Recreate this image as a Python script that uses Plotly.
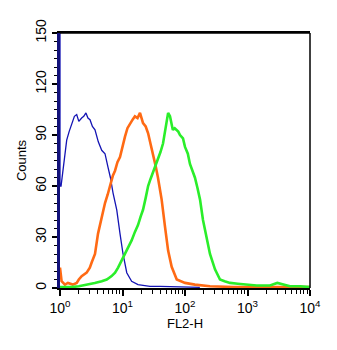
import plotly.graph_objects as go

# FL2-H channel positions and event counts for the three stained samples
blue_fl2 = [1.0, 1.0, 1.04, 1.13, 1.2, 1.28, 1.4, 1.54, 1.7, 1.85, 2.0, 2.22, 2.4, 2.6, 2.8,
            3.02, 3.3, 3.63, 4.1, 4.65, 5.25, 5.87, 6.4, 7.05, 8.09, 9.12, 10.2, 11.7,
            14.0, 17.7, 22.0, 27.5, 40.0, 57.5, 100.0, 173.0]
blue_cnt = [160, 60, 60, 71, 78, 87, 92, 97, 101, 102, 98, 100, 101, 103, 100,
            99, 95, 93, 86, 81, 79, 71, 65, 56, 46, 32, 20, 9,
            4, 2, 1.5, 1, 1, 0.8, 0.6, 0.4]

orange_fl2 = [1.0, 1.06, 1.2, 1.34, 1.6, 1.85, 2.0, 2.22, 2.67, 3.0, 3.21, 3.63, 4.06,
              4.65, 5.25, 5.8, 6.31, 7.0, 7.59, 8.3, 9.12, 10.0, 10.96, 12.0, 13.2, 14.5,
              15.8, 17.4, 19.05, 20.0, 21.3, 23.5, 25.7, 28.0, 30.8, 33.8, 36.9, 42.3,
              47.9, 53.7, 61.2, 73.8, 100.0, 144.0, 251.0, 600.0, 2000.0, 10000.0]
orange_cnt = [12, 4, 2, 3, 2, 3, 5, 7, 9, 12, 15, 20, 32,
              42, 50, 55, 60, 66, 69, 74, 77, 84, 89, 94, 97, 99,
              101, 100, 103, 100, 97, 95, 91, 85, 79, 72, 65, 52,
              36, 22, 12.5, 5, 3, 2, 1, 0.6, 0.5, 0.5]

green_fl2 = [1.0, 1.5, 2.0, 2.8, 3.6, 4.65, 5.6, 6.7, 7.6, 8.5, 9.6, 10.96, 12.4, 14.0,
             15.8, 17.7, 19.5, 21.3, 23.5, 25.7, 28.0, 30.8, 33.8, 36.9, 40.5, 44.5,
             47.0, 49.9, 53.7, 57.5, 60.5, 63.9, 68.5, 73.8, 78.0, 83.2, 92.9, 100.0,
             111.0, 120.0, 132.0, 144.0, 158.0, 174.0, 194.0, 221.0, 251.0, 302.0,
             363.0, 430.0, 525.0, 700.0, 912.0, 1400.0, 2290.0, 3000.0, 4786.0, 7000.0,
             10000.0]
green_cnt = [0.5, 0.5, 1, 2, 3, 4, 5, 7, 9, 12, 16, 20, 24, 28,
             33, 37, 42, 46, 53, 60, 64, 68, 72, 75, 80, 85,
             90, 95, 103, 101, 96, 93, 94, 93, 92, 90, 88, 83,
             79, 73, 69, 65, 59, 52, 40, 30, 20, 11,
             5, 4, 3, 2.5, 2, 1.5, 1.5, 3, 1, 1,
             0.5]

x_tickvals = [1, 10, 100, 1000, 10000]
x_ticktext = ["10<sup>0</sup>", "10<sup>1</sup>", "10<sup>2</sup>", "10<sup>3</sup>", "10<sup>4</sup>"]
y_tickvals = [0, 30, 60, 90, 120, 150]

minor_x = [m * d for d in (1, 10, 100, 1000) for m in range(2, 10)]

fig = go.Figure()
fig.add_trace(go.Scatter(x=blue_fl2, y=blue_cnt, mode="lines",
                         line=dict(color="#1414b4", width=1.3), cliponaxis=True))
fig.add_trace(go.Scatter(x=orange_fl2, y=orange_cnt, mode="lines",
                         line=dict(color="#ff6a14", width=2.6), cliponaxis=True))
fig.add_trace(go.Scatter(x=green_fl2, y=green_cnt, mode="lines",
                         line=dict(color="#2aee2a", width=2.6), cliponaxis=True))

font_family = "Liberation Sans, Arial, sans-serif"

fig.update_layout(
    width=337, height=350,
    margin=dict(l=60, r=27, t=33, b=62),
    paper_bgcolor="white", plot_bgcolor="white",
    showlegend=False,
    font=dict(family=font_family, color="black", size=14),
    xaxis=dict(
        type="log", range=[0, 4],
        tickvals=x_tickvals, ticktext=x_ticktext,
        ticks="outside", ticklen=6, tickwidth=1.5, tickcolor="black",
        minor=dict(tickvals=minor_x, ticks="outside", ticklen=4, tickwidth=1.2, tickcolor="black"),
        showline=True, linecolor="black", linewidth=1.5, mirror=True,
        showgrid=False, zeroline=False,
        tickfont=dict(size=14),
        title=dict(text="FL2-H", font=dict(size=13), standoff=2),
    ),
    yaxis=dict(
        range=[0, 150],
        tickvals=y_tickvals, tickangle=-90,
        ticks="outside", ticklen=5, tickwidth=1.5, tickcolor="black",
        minor=dict(dtick=5, ticks="outside", ticklen=3, tickwidth=1, tickcolor="black"),
        showline=True, linecolor="#12127a", linewidth=3, mirror=False,
        showgrid=False, zeroline=False,
        tickfont=dict(size=14),
        title=dict(text="Counts", font=dict(size=13), standoff=4),
    ),
    shapes=[
        # top and right frame edges
        dict(type="line", xref="paper", yref="paper", x0=0, x1=1, y0=1, y1=1,
             line=dict(color="black", width=1.5)),
        dict(type="line", xref="paper", yref="paper", x0=1, x1=1, y0=0, y1=1,
             line=dict(color="black", width=1.5)),
    ],
)

fig.write_html("out.html")
